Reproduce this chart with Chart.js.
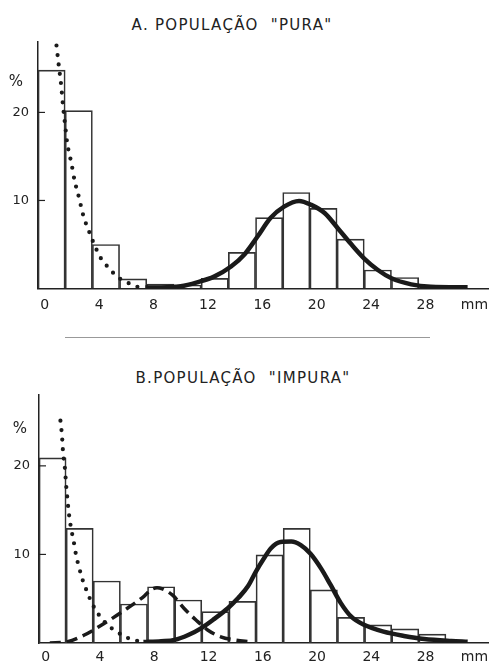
<!DOCTYPE html>
<html>
<head>
<meta charset="utf-8">
<script src="https://cdn.jsdelivr.net/npm/chart.js@4"></script>
<style>
  body { margin: 0; background: #fff; width: 489px; height: 663px; position: relative; overflow: hidden; font-family: "DejaVu Sans", sans-serif; color: #222; }
  .title { position: absolute; font-size: 15px; white-space: pre; letter-spacing: 1.3px; transform: translate(-50%, -50%); }
  #sep { position: absolute; left: 65px; top: 337px; width: 365px; border-top: 1px solid #999; }
  canvas { position: absolute; left: 0; }
</style>
</head>
<body>
<div class="title" style="left:232px;top:25px">A. POPULAÇÃO  "PURA"</div>
<div id="sep"></div>
<div class="title" style="left:243px;top:378px">B.POPULAÇÃO  "IMPURA"</div>
<canvas id="chartA" width="489" height="320" style="top:0"></canvas>
<canvas id="chartB" width="489" height="323" style="top:340px"></canvas>
<script>
// classes de 2 mm (centros)
const binCenters = [0.5, 2.5, 4.5, 6.5, 8.5, 10.5, 12.5, 14.5, 16.5, 18.5, 20.5, 22.5, 24.5, 26.5, 28.5];
const pureBars = [24.8, 20.2, 5.0, 1.1, 0.5, 0.4, 1.15, 4.1, 8.05, 10.9, 9.1, 5.6, 2.1, 1.25];
const impureBars = [20.9, 12.95, 7.0, 4.4, 6.35, 4.85, 3.55, 4.7, 9.95, 12.95, 6.0, 2.9, 2.05, 1.6, 1.0];

const xTicks = [0, 4, 8, 12, 16, 20, 24, 28];
const unitTick = 31.6;
const yTicks = [10, 20];

// curvas ajustadas
const pureSolidX = [7.4, 9, 10, 11.2, 12.45, 13.7, 14.7, 15.65, 16.6, 17.6, 18.7, 19.6, 20.6, 21.55, 22.5, 23.5, 24.5, 25.5, 26.95, 28.4, 31.1];
const pureSolidY = [0.1, 0.15, 0.25, 0.7, 1.35, 2.5, 3.9, 5.9, 8.0, 9.3, 9.95, 9.5, 8.55, 6.85, 5.1, 3.4, 2.1, 1.16, 0.47, 0.2, 0.13];
const pureDotX = [0.86, 1.03, 1.21, 1.33, 1.5, 1.65, 1.82, 1.95, 2.21, 2.39, 2.58, 2.76, 3.0, 3.3, 3.5, 3.81, 4.1, 4.47, 4.9, 5.34, 5.83, 6.3, 6.9];
const pureDotY = [27.6, 25.3, 23.0, 20.9, 18.5, 16.5, 15.2, 14.3, 12.1, 11.1, 9.9, 8.7, 7.5, 6.3, 5.5, 4.4, 3.5, 2.75, 2.0, 1.3, 0.9, 0.5, 0.15];

const impureSolidX = [7.2, 8.5, 9.5, 10.5, 11.44, 12.4, 13.4, 14.2, 14.9, 15.5, 16.1, 16.6, 17.3, 18.1, 18.8, 19.5, 20.3, 21.0, 21.75, 22.5, 23.5, 24.9, 26.4, 27.9, 29.9, 31.1];
const impureSolidY = [0.1, 0.2, 0.35, 0.9, 1.66, 2.7, 3.9, 5.1, 6.4, 8.1, 9.6, 10.7, 11.4, 11.45, 11.05, 10.1, 8.4, 6.55, 4.5, 3.0, 2.03, 1.28, 0.8, 0.45, 0.23, 0.15];
const impureDashX = [0.3, 1.6, 2.84, 4.3, 5.8, 7.26, 7.75, 8.2, 8.6, 9.35, 10.2, 11.07, 11.93, 12.9, 13.9, 15.1];
const impureDashY = [0, 0.15, 0.9, 2.2, 3.7, 5.3, 6.0, 6.25, 6.1, 5.4, 3.9, 2.6, 1.47, 0.7, 0.34, 0.15];
const impureDotX = [1.08, 1.2, 1.27, 1.4, 1.5, 1.61, 1.73, 1.86, 2.06, 2.23, 2.47, 2.72, 3.04, 3.4, 3.83, 4.44, 5.2, 6.0, 7.1];
const impureDotY = [25.1, 23.3, 21.6, 19.9, 17.85, 16.0, 14.3, 13.0, 11.45, 9.94, 8.44, 7.1, 5.8, 4.5, 3.36, 2.2, 1.3, 0.6, 0.1];

Chart.defaults.font.family = '"DejaVu Sans", sans-serif';
Chart.defaults.color = "#222";

const pts = (xs, ys) => xs.map((x, i) => ({ x, y: ys[i] }));

const curveStyles = {
  solid: { borderWidth: 4.5, borderDash: [] },
  dashed: { borderWidth: 3.5, borderDash: [11, 6] },
  dotted: { borderWidth: 4.2, borderDash: [0, 9.5], borderCapStyle: "round" },
};

// ticks internos do eixo y + simbolo "%"
const axisExtras = {
  id: "axisExtras",
  afterDraw(chart, args, opts) {
    const { ctx, chartArea, scales } = chart;
    const y = scales.y;
    ctx.save();
    ctx.strokeStyle = "#222";
    ctx.lineWidth = 1.2;
    y.ticks.forEach((t) => {
      const py = y.getPixelForValue(t.value);
      ctx.beginPath();
      ctx.moveTo(chartArea.left, py);
      ctx.lineTo(chartArea.left + 7, py);
      ctx.stroke();
    });
    ctx.fillStyle = "#222";
    ctx.font = '15px "DejaVu Sans"';
    ctx.textAlign = "center";
    ctx.textBaseline = "middle";
    ctx.fillText("%", chartArea.left - opts.unitOffset, y.getPixelForValue(opts.unitAt));
    ctx.restore();
  },
};

function drawPanel(id, bars, curves, layout) {
  new Chart(document.getElementById(id), {
    type: "bar",
    data: {
      datasets: [
        {
          type: "bar",
          data: pts(binCenters.slice(0, bars.length), bars),
          backgroundColor: "rgba(0,0,0,0)",
          borderColor: "#333",
          borderWidth: 1,
          borderSkipped: "bottom",
          barPercentage: 1,
          categoryPercentage: 1,
          order: 2,
        },
        ...curves.map((c) => ({
          type: "line",
          data: pts(c.x, c.y),
          borderColor: "#1a1a1a",
          pointRadius: 0,
          cubicInterpolationMode: "monotone",
          fill: false,
          order: 1,
          ...curveStyles[c.style],
        })),
      ],
    },
    options: {
      responsive: false,
      animation: false,
      devicePixelRatio: 1,
      layout: { padding: { top: layout.top, right: 1, left: 0, bottom: 0 } },
      plugins: {
        legend: { display: false },
        tooltip: { enabled: false },
        axisExtras: { unitAt: layout.unitAt, unitOffset: layout.unitOffset },
      },
      scales: {
        x: {
          type: "linear",
          min: -0.5,
          max: 32.6,
          offset: false,
          grid: { display: false, drawTicks: false },
          border: { color: "#222", width: 1.5 },
          afterBuildTicks: (s) => {
            s.ticks = [...xTicks, unitTick].map((v) => ({ value: v }));
          },
          afterFit: (s) => {
            s.height = layout.xHeight;
            s.paddingLeft = 0;
            s.paddingRight = 0;
          },
          ticks: {
            autoSkip: false,
            maxRotation: 0,
            padding: layout.xPad,
            font: { size: 14 },
            callback: (v) => (v === unitTick ? "mm" : v),
          },
        },
        y: {
          min: 0,
          max: 28,
          grid: { display: false, drawTicks: false },
          border: { color: "#222", width: 1.5 },
          afterBuildTicks: (s) => {
            s.ticks = yTicks.map((v) => ({ value: v }));
          },
          afterFit: (s) => {
            s.width = layout.yWidth;
            s.paddingTop = 0;
            s.paddingBottom = 0;
          },
          ticks: { padding: 9, font: { size: 13 } },
        },
      },
    },
    plugins: [axisExtras],
  });
}

drawPanel(
  "chartA",
  pureBars,
  [
    { x: pureDotX, y: pureDotY, style: "dotted" },
    { x: pureSolidX, y: pureSolidY, style: "solid" },
  ],
  { top: 42, xHeight: 31.5, xPad: 8, yWidth: 38, unitAt: 23.4, unitOffset: 22 }
);

drawPanel(
  "chartB",
  impureBars,
  [
    { x: impureDotX, y: impureDotY, style: "dotted" },
    { x: impureDashX, y: impureDashY, style: "dashed" },
    { x: impureSolidX, y: impureSolidY, style: "solid" },
  ],
  { top: 55, xHeight: 20, xPad: 6, yWidth: 39, unitAt: 24.1, unitOffset: 19 }
);
</script>
</body>
</html>
